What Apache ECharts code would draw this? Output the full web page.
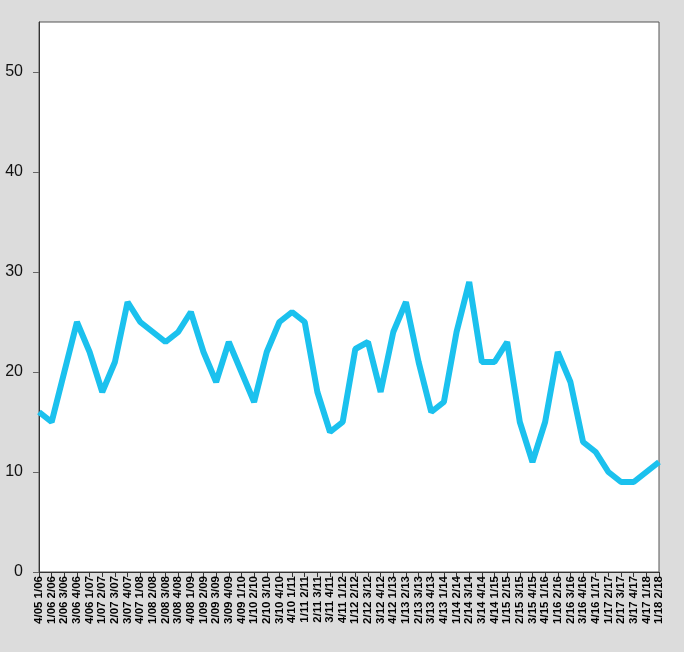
<!DOCTYPE html>
<html><head><meta charset="utf-8">
<script src="https://cdn.jsdelivr.net/npm/echarts@6/dist/echarts.min.js"></script>
<style>html,body{margin:0;padding:0;background:#dcdcdc}#c{width:684px;height:652px}</style>
</head><body><div id="c"></div>
<script>
const categories = ["4/05 1/06","1/06 2/06","2/06 3/06","3/06 4/06","4/06 1/07","1/07 2/07","2/07 3/07","3/07 4/07","4/07 1/08","1/08 2/08","2/08 3/08","3/08 4/08","4/08 1/09","1/09 2/09","2/09 3/09","3/09 4/09","4/09 1/10","1/10 2/10","2/10 3/10","3/10 4/10","4/10 1/11","1/11 2/11","2/11 3/11","3/11 4/11","4/11 1/12","1/12 2/12","2/12 3/12","3/12 4/12","4/12 1/13","1/13 2/13","2/13 3/13","3/13 4/13","4/13 1/14","1/14 2/14","2/14 3/14","3/14 4/14","4/14 1/15","1/15 2/15","2/15 3/15","3/15 4/15","4/15 1/16","1/16 2/16","2/16 3/16","3/16 4/16","4/16 1/17","1/17 2/17","2/17 3/17","3/17 4/17","4/17 1/18","1/18 2/18"];
const values = [16,15,20,25,22,18,21,27,25,24,23,24,26,22,19,23,20,17,22,25,26,25,18,14,15,22.3,23,18,24,27,21,16,17,24,29,21,21,23,15,11,15,22,19,13,12,10,9,9,10,11];
const yTicks = [0,10,20,30,40,50];

const chart = echarts.init(document.getElementById('c'), null, {renderer:'canvas'});
chart.setOption({
  backgroundColor:'#dcdcdc',
  animation:false,
  grid:{left:39,right:25,top:22,bottom:80,show:true,backgroundColor:'#ffffff',borderColor:'#555555',borderWidth:1},
  xAxis:{
    type:'category', data:categories, boundaryGap:false,
    axisLine:{lineStyle:{color:'#333333',width:1}},
    axisTick:{show:true,length:5,alignWithLabel:true,lineStyle:{color:'#333333'},interval:0},
    axisLabel:{interval:0,rotate:90,fontSize:11.5,fontWeight:'bold',color:'#000000',fontFamily:'Liberation Sans, Arial, sans-serif',margin:4}
  },
  yAxis:{
    type:'value', min:0, max:55, interval:10,
    splitLine:{show:false},
    axisLine:{show:true,lineStyle:{color:'#333333',width:1}},
    axisTick:{show:true,length:6,lineStyle:{color:'#666666'},customValues:yTicks},
    axisLabel:{fontSize:16,color:'#111111',fontFamily:'Liberation Sans, Arial, sans-serif',margin:16,customValues:yTicks}
  },
  series:[{type:'line',data:values,symbol:'none',lineStyle:{color:'#1bc1ee',width:6},clip:true}]
});
</script></body></html>
